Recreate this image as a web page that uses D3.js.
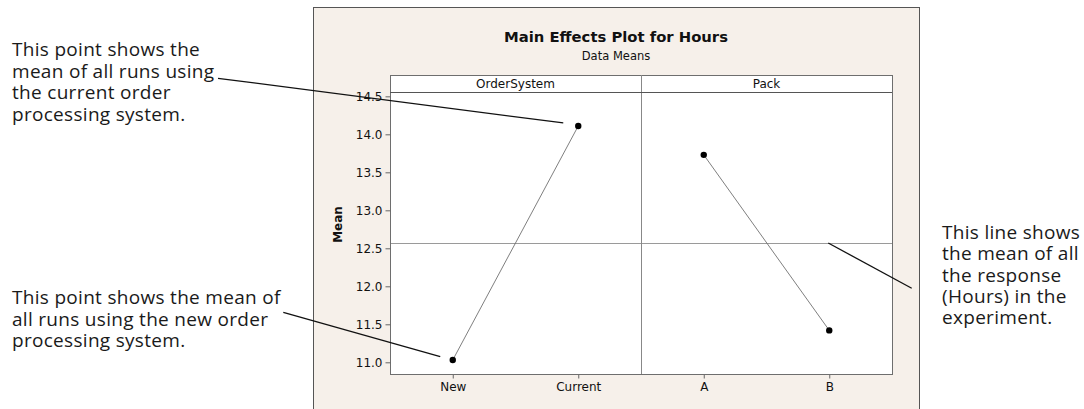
<!DOCTYPE html>
<html>
<head>
<meta charset="utf-8">
<script src="https://cdn.jsdelivr.net/npm/d3@7"></script>
<style>
  html, body { margin: 0; padding: 0; background: #ffffff; }
  svg { display: block; }
  .note { font-family: "Open Sans", "Noto Sans", sans-serif; font-size: 19px; letter-spacing: 0.3px; fill: #1a1a1a; }
  .mt { font-family: "DejaVu Sans", Tahoma, sans-serif; fill: #111; }
</style>
</head>
<body>
<svg id="chart" width="1084" height="409"></svg>
<script>
// Main effects: factor names, levels and the mean response at each level
const factors = ["OrderSystem", "Pack"];
const orderLevels = ["New", "Current"];
const orderMeans = [11.03, 14.11];
const packLevels = ["A", "B"];
const packMeans = [13.73, 11.42];
const grandMean = 12.57;
const yTicks = [11.0, 11.5, 12.0, 12.5, 13.0, 13.5, 14.0, 14.5];

// Callout texts around the plot
const noteCurrent = ["This point shows the", "mean of all runs using", "the current order", "processing system."];
const noteNew = ["This point shows the mean of", "all runs using the new order", "processing system."];
const noteMean = ["This line shows", "the mean of all", "the response", "(Hours) in the", "experiment."];

const svg = d3.select("#chart");

// Outer graph window
const frame = { x: 313, y: 7, w: 606, h: 420 };
svg.append("rect")
  .attr("x", frame.x + 0.5).attr("y", frame.y + 0.5)
  .attr("width", frame.w).attr("height", frame.h)
  .attr("fill", "#f6f0ea").attr("stroke", "#555").attr("stroke-width", 1);

// Title block
const cx = frame.x + frame.w / 2;
svg.append("text").attr("class", "mt")
  .attr("x", cx).attr("y", 41.5).attr("text-anchor", "middle")
  .attr("font-size", 14.8).attr("font-weight", "bold")
  .text("Main Effects Plot for Hours");
svg.append("text").attr("class", "mt")
  .attr("x", cx).attr("y", 59.5).attr("text-anchor", "middle")
  .attr("font-size", 11.5)
  .text("Data Means");

// Panel geometry
const plot = { left: 390, right: 892, headTop: 75, top: 92, bottom: 374 };
const panelW = (plot.right - plot.left) / factors.length;

const y = d3.scaleLinear().domain([10.846, 14.557]).range([plot.bottom, plot.top]);

const panels = [
  { name: factors[0], levels: orderLevels, means: orderMeans },
  { name: factors[1], levels: packLevels, means: packMeans }
];

const g = svg.append("g");

// White plotting region and header strip
g.append("rect")
  .attr("x", plot.left + 0.5).attr("y", plot.headTop + 0.5)
  .attr("width", plot.right - plot.left).attr("height", plot.bottom - plot.headTop)
  .attr("fill", "#fff").attr("stroke", "none");

// Grand mean reference line
g.append("line")
  .attr("x1", plot.left).attr("x2", plot.right)
  .attr("y1", Math.round(y(grandMean)) + 0.5).attr("y2", Math.round(y(grandMean)) + 0.5)
  .attr("stroke", "#9a9a9a").attr("stroke-width", 1);

const xScales = [];
panels.forEach((p, i) => {
  const x0 = plot.left + i * panelW;
  const x = d3.scalePoint().domain(p.levels).range([x0, x0 + panelW]).padding(0.5);
  xScales.push(x);

  // Header label
  g.append("text").attr("class", "mt")
    .attr("x", x0 + panelW / 2).attr("y", 88).attr("text-anchor", "middle")
    .attr("font-size", 12).text(p.name);

  // Level axis
  const ax = g.append("g")
    .attr("transform", `translate(0,${plot.bottom + 0.5})`)
    .call(d3.axisBottom(x).tickSize(4).tickPadding(4));
  ax.select(".domain").remove();
  ax.selectAll(".tick line").attr("stroke", "#666");
  ax.selectAll(".tick text").attr("class", "mt").attr("font-size", 12)
    .attr("fill", "#111").attr("font-family", "DejaVu Sans, Tahoma, sans-serif");

  // Connecting line and level means
  const pts = p.levels.map((l, k) => [x(l), y(p.means[k])]);
  g.append("path")
    .attr("d", d3.line()(pts))
    .attr("fill", "none").attr("stroke", "#707070").attr("stroke-width", 0.9);
  g.selectAll(null).data(pts).enter().append("circle")
    .attr("cx", d => d[0]).attr("cy", d => d[1]).attr("r", 3.2)
    .attr("fill", "#000");
});

// Panel borders
g.append("rect")
  .attr("x", plot.left + 0.5).attr("y", plot.headTop + 0.5)
  .attr("width", plot.right - plot.left).attr("height", plot.bottom - plot.headTop)
  .attr("fill", "none").attr("stroke", "#6e6e6e");
g.append("line")
  .attr("x1", plot.left + panelW + 0.5).attr("x2", plot.left + panelW + 0.5)
  .attr("y1", plot.headTop).attr("y2", plot.bottom)
  .attr("stroke", "#888");
g.append("line")
  .attr("x1", plot.left).attr("x2", plot.right)
  .attr("y1", plot.top + 0.5).attr("y2", plot.top + 0.5)
  .attr("stroke", "#555");

// Mean axis
const ay = g.append("g")
  .attr("transform", `translate(${plot.left + 0.5},0)`)
  .call(d3.axisLeft(y).tickValues(yTicks).tickFormat(d3.format(".1f")).tickSize(5).tickPadding(3));
ay.select(".domain").remove();
ay.selectAll(".tick line").attr("stroke", "#666");
ay.selectAll(".tick text").attr("font-size", 12).attr("fill", "#111")
  .attr("font-family", "DejaVu Sans, Tahoma, sans-serif");

svg.append("text").attr("class", "mt")
  .attr("transform", `translate(342,${(plot.headTop + plot.bottom) / 2}) rotate(-90)`)
  .attr("text-anchor", "middle").attr("font-size", 12).attr("font-weight", "bold")
  .text("Mean");

// Callouts
function note(lines, x, y0, lh) {
  const t = svg.append("text").attr("class", "note");
  lines.forEach((s, i) => t.append("tspan").attr("x", x).attr("y", y0 + i * lh).text(s));
}
note(noteCurrent, 12, 56, 21.5);
note(noteNew, 12, 304, 21.5);
note(noteMean, 942, 239, 21.3);

const leader = (x1, y1, x2, y2) => svg.append("line")
  .attr("x1", x1).attr("y1", y1).attr("x2", x2).attr("y2", y2)
  .attr("stroke", "#111").attr("stroke-width", 1.3);

const xo = xScales[0], xp = xScales[1];
leader(218, 78.3, xo("Current") - 15, y(orderMeans[1]) - 3);
leader(283.3, 312.3, xo("New") - 12.5, y(orderMeans[0]) - 3.3);
leader(xp("B") - 1, y(grandMean), 911.7, 288.3);
</script>
</body>
</html>
